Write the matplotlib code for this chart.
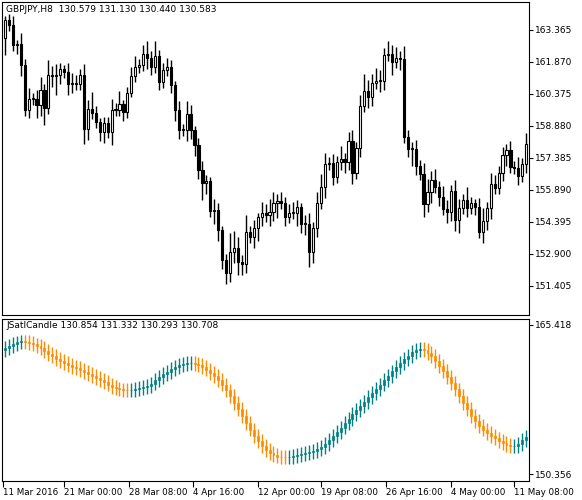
import matplotlib
matplotlib.use('Agg')
import matplotlib.pyplot as plt

# GBPJPY H8 closes, one per bar (open = previous close)
first_open = 163.0
closes = [163.83,163.6,162.66,162.71,161.73,159.63,160.14,160.14,159.86,160.56,
          159.72,161.26,161.22,161.26,161.54,161.4,160.84,160.84,160.84,161.26,
          158.74,159.67,159.49,159.07,158.6,159.02,158.6,159.63,159.63,159.91,
          159.53,160.42,161.22,161.64,161.73,162.24,162.06,161.64,162.15,160.94,
          161.5,161.64,160.8,159.63,158.69,158.69,159.44,158.69,158.0,156.82,
          156.22,156.31,154.91,154.96,154.02,152.62,152.01,153.0,153.18,152.53,
          152.43,153.93,153.69,154.11,154.63,154.82,154.7,
          154.86,155.28,155.38,155.28,154.63,154.82,154.82,155.1,154.3,154.3,
          153.0,154.11,155.28,156.03,157.1,157.15,156.5,157.2,157.34,157.2,
          158.18,156.69,157.85,159.81,160.52,160.23,160.89,160.98,160.98,162.2,
          162.24,161.87,162.06,162.01,158.37,157.81,157.81,157.01,156.64,155.24,
          155.8,156.36,156.03,155.56,155.0,154.86,155.84,154.49,155.05,155.42,
          155.05,155.28,155.1,153.93,154.44,155.05,156.17,155.98,156.69,157.52,
          157.76,156.96,156.92,156.54,157.1,158.04]
# wick lengths above body top / below body bottom
up_wick = [0.2,0.3,0.4,0.2,0.5,0.3,0.5,0.3,0.4,0.6,0.3,0.7,0.4,0.5,0.3,0.2,0.4,0.5,0.4,0.3,
           0.5,0.4,0.8,0.3,0.2,0.3,0.3,0.5,0.3,0.6,0.2,0.3,0.4,0.5,0.3,0.4,0.6,0.3,0.7,0.3,
           0.3,0.4,0.3,0.2,0.4,0.3,0.6,0.4,0.2,0.3,0.4,0.3,0.2,0.5,0.3,0.2,0.3,0.9,0.8,0.5,
           0.3,0.8,0.3,0.4,0.2,0.5,0.4,0.6,0.5,0.3,0.4,0.3,0.4,0.5,0.3,0.2,0.4,0.5,0.3,0.5,
           0.6,0.5,0.3,0.4,0.3,0.6,0.3,0.4,0.5,0.3,0.5,0.8,0.5,0.4,0.6,0.5,0.3,0.6,0.4,0.5,
           0.3,0.6,0.3,0.3,0.4,0.3,0.5,0.6,0.4,0.5,0.3,0.5,0.4,0.3,0.5,0.4,0.3,0.6,0.3,0.2,
           0.4,0.6,0.3,0.5,0.4,0.3,0.4,0.3,0.4,0.3,0.5,0.3,0.5]
dn_wick = [0.8,0.3,0.3,0.4,0.5,0.3,0.4,0.3,0.6,0.5,0.8,0.3,0.5,0.9,0.4,0.3,0.5,0.4,0.3,0.3,
           0.7,0.5,0.3,0.3,0.4,0.5,0.3,0.6,0.3,0.3,0.4,0.3,0.2,0.3,0.3,0.3,0.5,0.4,0.3,0.4,
           0.3,0.3,0.4,0.5,0.4,0.3,0.5,0.4,0.5,0.4,0.8,0.5,0.3,0.6,0.5,0.4,0.5,0.4,0.5,0.6,
           0.5,0.4,0.3,0.5,0.6,0.4,0.3,0.5,0.4,0.7,0.3,0.4,0.3,0.3,0.6,0.4,0.5,0.7,0.5,0.4,
           0.3,0.5,0.3,0.4,0.3,0.4,0.5,0.4,0.5,0.3,0.4,0.3,0.5,0.4,0.3,0.5,0.4,0.3,0.6,0.3,
           0.5,0.3,0.4,0.8,0.4,0.3,0.6,0.4,0.5,0.3,0.4,0.3,0.5,0.4,0.5,0.6,0.3,0.4,0.3,0.4,
           0.3,0.5,0.4,0.5,0.3,0.3,0.4,0.5,0.3,0.3,0.4,0.3,0.4]

# JSatlCandle smoothed values, one per bar
satl = [163.08,163.3,163.5,163.65,163.75,163.7,163.6,163.45,163.28,163.08,
        162.8,162.52,162.25,161.98,161.74,161.55,161.36,161.18,161.05,
        160.88,160.7,160.5,160.28,160.07,159.85,159.62,159.4,159.18,159.0,
        158.9,158.86,158.84,158.88,158.95,159.05,159.15,159.23,
        159.5,159.85,160.2,160.45,160.7,160.95,161.15,161.35,161.51,161.56,161.57,
        161.5,161.35,161.15,160.91,160.6,160.25,159.85,159.4,
        158.8,158.2,157.55,156.9,156.2,155.5,154.85,154.22,
        153.7,153.2,152.75,152.45,152.25,152.12,152.05,152.03,
        152.08,152.15,152.25,152.4,152.5,152.6,152.72,152.88,153.05,
        153.4,153.8,154.2,154.62,155.05,155.5,155.95,156.38,156.8,157.23,
        157.67,158.1,158.53,158.97,159.4,159.85,160.3,160.72,161.15,161.57,
        161.95,162.3,162.65,162.91,162.95,162.85,162.6,162.25,
        161.8,161.3,160.75,160.17,159.57,158.9,158.22,157.55,156.9,156.22,
        155.7,155.25,154.85,154.5,154.22,153.95,153.7,153.45,153.28,153.15,
        153.15,153.4,153.75,154.1]
satl_first_open = 162.9
satl_wick = 0.7

upper_ticks = [163.365,161.870,160.375,158.880,157.385,155.890,154.395,152.900,151.405]
lower_ticks = [165.418,150.356]
date_pos = [-0.5,15,31.5,47.5,64,80,96.5,113,129]
date_labels = ["11 Mar 2016","21 Mar 00:00","28 Mar 08:00","4 Apr 16:00","12 Apr 00:00",
               "19 Apr 08:00","26 Apr 16:00","4 May 00:00","11 May 08:00"]

plt.rcParams['font.family'] = 'DejaVu Sans'
plt.rcParams['font.size'] = 6.5

fig = plt.figure(figsize=(5.82, 5.0), dpi=100)
ax1 = fig.add_axes([2/582, 1-315/500, 527/582, 313/500])
ax2 = fig.add_axes([2/582, 1-481/500, 527/582, 162/500])

opens = [first_open] + closes[:-1]
for i, (o, c) in enumerate(zip(opens, closes)):
    top, bot = max(o, c), min(o, c)
    ax1.vlines(i, bot - dn_wick[i], top + up_wick[i], color='black', lw=1)
    h = max(top - bot, 0.03)
    ax1.bar(i, h, bottom=bot, width=0.55, color='black' if c < o else 'white',
            edgecolor='black', linewidth=0.8, zorder=3)

s_opens = [satl_first_open] + satl[:-1]
for i, (o, c) in enumerate(zip(s_opens, satl)):
    col = '#008080' if c >= o else '#FF8C00'
    top, bot = max(o, c), min(o, c)
    ax2.vlines(i, bot - satl_wick, top + satl_wick, color=col, lw=1)
    ax2.bar(i, max(top - bot, 0.05), bottom=bot, width=0.5, color=col,
            edgecolor=col, linewidth=0.5, zorder=3)

for ax in (ax1, ax2):
    ax.set_xlim(-0.75, 132.7)
    ax.yaxis.tick_right()
    ax.tick_params(axis='y', length=3, width=0.8, pad=1, labelsize=6.5)
    for s in ax.spines.values():
        s.set_linewidth(0.8)

ax1.set_ylim(150.05, 164.67)
ax1.set_yticks(upper_ticks)
ax1.set_yticklabels(["%.3f" % v for v in upper_ticks])
ax1.set_xticks([])
ax1.text(0.008, 0.99, "GBPJPY,H8  130.579 131.130 130.440 130.583",
         transform=ax1.transAxes, va='top', ha='left', fontsize=6.5)

ax2.set_ylim(149.65, 166.02)
ax2.set_yticks(lower_ticks)
ax2.set_yticklabels(["%.3f" % v for v in lower_ticks])
ax2.set_xticks(date_pos)
ax2.set_xticklabels(date_labels, ha='left')
ax2.tick_params(axis='x', length=4, width=0.8, pad=1, labelsize=6.3)
ax2.text(0.008, 0.985, "JSatlCandle 130.854 131.332 130.293 130.708",
         transform=ax2.transAxes, va='top', ha='left', fontsize=6.5)

fig.savefig('out.png', dpi=100)
